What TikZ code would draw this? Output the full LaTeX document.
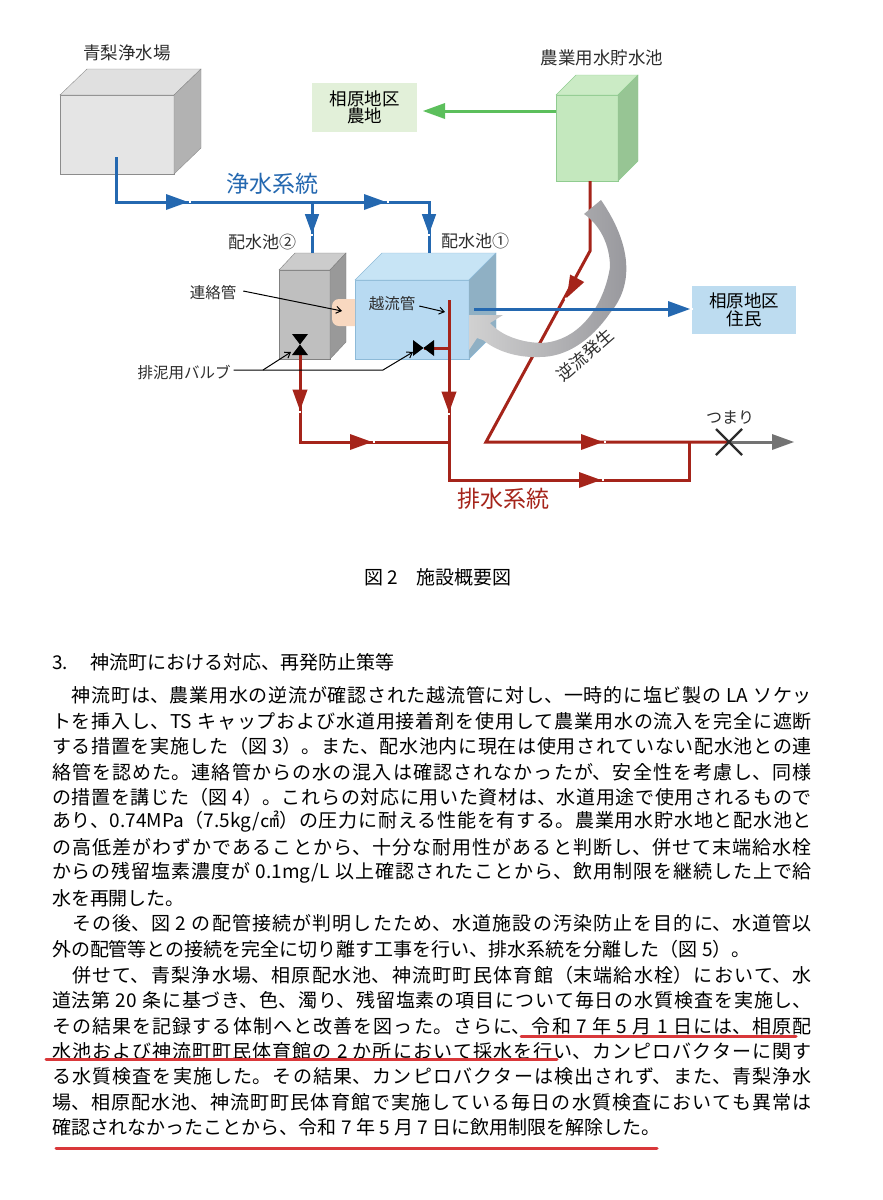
\documentclass[tikz,border=0pt]{standalone}
\usepackage{fontspec}
\setmainfont{Noto Sans CJK JP}
\usetikzlibrary{arrows.meta, calc}
\definecolor{watblue}{RGB}{36, 104, 176}
\definecolor{drainred}{RGB}{165, 36, 26}
\definecolor{farmgreen}{RGB}{92, 191, 92}
\definecolor{inkgray}{RGB}{45, 45, 45}
\definecolor{markred}{RGB}{217, 56, 58}
\XeTeXlinebreaklocale "ja"
\XeTeXlinebreakskip=0pt plus 2pt minus 0.3pt
\tolerance=9999
\hbadness=10000
\newcommand{\sz}[1]{\fontsize{#1}{#1}\selectfont}
% side and top faces behind a front rectangle node
\newcommand{\tankback}[6]{
  \filldraw[draw=#6, fill=#4] (#1.north west) -- ++(#2,-#3) -- ++($(#1.north east)-(#1.north west)$) -- (#1.north east) -- cycle;
  \filldraw[draw=#6, fill=#5] (#1.north east) -- ++(#2,-#3) -- ++($(#1.south east)-(#1.north east)$) -- (#1.south east) -- cycle;
}
\tikzset{
  flowtip/.pic={
    \fill[pic actions] (-11,-8) -- (11,0) -- (-11,8) -- cycle;
    \draw[white, line width=2.6pt] (11.5,0) -- (13.5,0);
  }
}
\begin{document}
\begin{tikzpicture}[
    x=1pt, y=-1pt,
    every node/.style={font=\sz{16}, align=center, text=inkgray, inner sep=0pt, outer sep=0pt},
    tankfront/.style={draw, anchor=north west, line width=0.8pt},
    infobox/.style={anchor=north west, font=\sz{17.5}, text=black, minimum width=105pt},
    bluepipe/.style={draw=watblue, line width=3pt},
    redpipe/.style={draw=drainred, line width=3pt},
    leader/.style={draw=black, line width=1pt},
    leadtip/.style={leader, -{Straight Barb[length=5pt, width=7pt]}},
    bodyline/.style={anchor=west, font=\sz{19}, text=black, align=left},
    fullline/.style={bodyline, align=justify, text width=760pt, execute at begin node={\parfillskip=0pt}},
    markline/.style={draw=markred, line width=3pt, line cap=round}
  ]
  \useasboundingbox (0,0) rectangle (883,1200);

  % tanks
  \node[tankfront, draw=black!45, fill=black!10, minimum width=114pt, minimum height=79pt] (plant) at (60,95) {};
  \tankback{plant}{27}{26}{black!12}{black!30}{black!45}
  \node[tankfront, draw=black!50, fill=black!25, minimum width=51pt, minimum height=89pt] (tankb) at (279,270) {};
  \tankback{tankb}{16}{17}{black!20}{black!40}{black!50}
  \node[tankfront, draw={rgb,255:red,141;green,186;blue,216}, fill={rgb,255:red,184;green,218;blue,242}, minimum width=114pt, minimum height=79pt] (tanka) at (355,280) {};
  \tankback{tanka}{27}{27}{{rgb,255:red,199;green,228;blue,245}}{{rgb,255:red,143;green,176;blue,196}}{{rgb,255:red,141;green,186;blue,216}}
  \node[tankfront, draw={rgb,255:red,144;green,204;blue,144}, fill={rgb,255:red,196;green,232;blue,190}, minimum width=62pt, minimum height=86pt] (farmtank) at (556,95) {};
  \tankback{farmtank}{20}{20}{{rgb,255:red,203;green,235;blue,197}}{{rgb,255:red,151;green,197;blue,148}}{{rgb,255:red,144;green,204;blue,144}}
  \fill[fill={rgb,255:red,248;green,216;blue,192}] (355,299) [rounded corners=7pt] -- (332,299) -- (332,326) [sharp corners] -- (355,326) -- cycle;

  % boxes
  \node[infobox, fill={rgb,255:red,226;green,240;blue,217}, minimum height=49pt] (fields) at (312,83) {相原地区\\農地};
  \node[infobox, fill={rgb,255:red,189;green,220;blue,240}, minimum width=104pt, minimum height=48pt] (homes) at (692,286) {相原地区\\住民};

  % named points
  \coordinate (plantout) at (116,157);
  \coordinate (mainbend) at (116,202);
  \coordinate (branchb) at (312,202);
  \coordinate (branchtop) at (429,202);
  \coordinate (inb) at (312,253);
  \coordinate (ina) at (429,253);
  \coordinate (outa) at (474,309);
  \coordinate (overtop) at (449,300);
  \coordinate (overknee) at (449,480);
  \coordinate (valveastub) at (449,348);
  \coordinate (sludgebend) at (300,442);
  \coordinate (sludgejoin) at (449,442);
  \coordinate (farmknee) at (590,251);
  \coordinate (farmfoot) at (486,442);
  \coordinate (joinup) at (689,442);
  \coordinate (joinlow) at (689,480);
  \coordinate (clog) at (729,442);
  \coordinate (clogend) at (775,442);
  \coordinate (farmout) at (556,111);
  \coordinate (fieldin) at (440,111);
  \coordinate (homein) at (670,309);
  \coordinate (valvebtop) at (300,347);

  % drain pipes
  \draw[redpipe] (farmtank.south -| farmknee) -- (farmknee) -- (farmfoot) -- (clog);
  \draw[redpipe] (overtop) -- (overknee) -- (joinlow) -- (joinup);
  \draw[redpipe] (valvebtop) -- (sludgebend) -- (sludgejoin);
  \draw[redpipe] (valveastub) -- (424,348);
  \draw[draw=black!55, line width=3pt] (clog) -- (clogend);

  % backflow swoosh
  \shade[left color=black!18, right color={rgb,255:red,150;green,150;blue,155}]
    (601,200) .. controls (632,245) and (634,285) .. (610,313)
    .. controls (590,342) and (565,357) .. (540,357)
    .. controls (515,358) and (495,350) .. (483,340)
    -- (477,338) -- (469,350) -- (469,315) -- (503,315) -- (490,323)
    .. controls (505,340) and (535,345) .. (550,342)
    .. controls (585,335) and (605,300) .. (610,267)
    .. controls (610,245) and (600,225) .. (584,214) -- cycle;

  % water pipes
  \draw[bluepipe] (plantout) -- (mainbend) -- (branchtop) -- (ina);
  \draw[bluepipe] (branchb) -- (inb);
  \draw[bluepipe] (outa) -- (homein);
  \draw[draw=farmgreen, line width=3pt] (farmout) -- (fieldin);

  % flow arrows
  \pic[fill=watblue] at (177,202) {flowtip};
  \pic[fill=watblue] at (375,202) {flowtip};
  \pic[fill=watblue, rotate=-90, scale=0.9] at (312,224) {flowtip};
  \pic[fill=watblue, rotate=-90, scale=0.9] at (429,224) {flowtip};
  \pic[fill=watblue] at (679,309) {flowtip};
  \pic[fill=farmgreen, rotate=180] at (434,111) {flowtip};
  \pic[fill=drainred, rotate=-90, scale=0.95] at (300,400) {flowtip};
  \pic[fill=drainred, rotate=-90, scale=0.95] at (449,402) {flowtip};
  \pic[fill=drainred] at (361,442) {flowtip};
  \pic[fill=drainred, rotate=-118] at (572,288) {flowtip};
  \pic[fill=drainred] at (592,442) {flowtip};
  \pic[fill=drainred] at (590,480) {flowtip};
  \pic[fill=black!55] at (783,442) {flowtip};

  % valves and clog mark
  \fill[black] (292,334) -- (308,334) -- (292,355) -- (308,355) -- cycle;
  \fill[black] (413,340) -- (413,356) -- (434,340) -- (434,356) -- cycle;
  \draw[draw=inkgray, line width=2.4pt] (716,429) -- (742,455) (716,455) -- (742,429);

  % labels
  \node[font=\sz{17.5}] (plantlbl) at (127,53) {青梨浄水場};
  \node[font=\sz{17.5}] (farmlbl) at (602,58) {農業用水貯水池};
  \node[font=\sz{23}, text=watblue] (cleanlbl) at (272,184) {浄水系統};
  \node[font=\sz{23}, text=drainred] (drainlbl) at (503,499) {排水系統};
  \node[font=\sz{17}] (tankblbl) at (262,242) {配水池②};
  \node[font=\sz{17}] (tankalbl) at (475,241) {配水池①};
  \node[font=\sz{15.5}] (linklbl) at (213,293) {連絡管};
  \node[font=\sz{15.5}] (overlbl) at (392,304) {越流管};
  \node[font=\sz{15.5}] (sludgelbl) at (184,373) {排泥用バルブ};
  \node[font=\sz{16}] (cloglbl) at (730,418) {つまり};
  \node[font=\sz{17}, rotate=41] (backlbl) at (585,355) {逆流発生};
  \node[font=\sz{19}, text=black] (caption) at (438,577) {図 2　施設概要図};

  % leaders
  \draw[leadtip] (linklbl.east) ++(7,-2) -- (342,311);
  \draw[leadtip] (overlbl.east) ++(4,2) -- (445,312);
  \draw[leadtip] (sludgelbl.east) ++(3,-3) -- (383,370) -- (413,352);
  \draw[leadtip] (263,370) -- (291,352);

  % body text
  \node[bodyline] (head) at (52,662) {\makebox[20pt][l]{3.}　神流町における対応、再発防止策等};
  \foreach \ypos/\linetext [count=\i] in {
    695/{　神流町は、農業用水の逆流が確認された越流管に対し、一時的に塩ビ製の LA ソケッ},
    721/{トを挿入し、TS キャップおよび水道用接着剤を使用して農業用水の流入を完全に遮断},
    746/{する措置を実施した（図 3）。また、配水池内に現在は使用されていない配水池との連},
    772/{絡管を認めた。連絡管からの水の混入は確認されなかったが、安全性を考慮し、同様},
    797/{の措置を講じた（図 4）。これらの対応に用いた資材は、水道用途で使用されるもので},
    822/{あり、0.74MPa（7.5kg/㎠）の圧力に耐える性能を有する。農業用水貯水地と配水池と},
    847/{の高低差がわずかであることから、十分な耐用性があると判断し、併せて末端給水栓},
    873/{からの残留塩素濃度が 0.1mg/L 以上確認されたことから、飲用制限を継続した上で給},
    923/{　その後、図 2 の配管接続が判明したため、水道施設の汚染防止を目的に、水道管以},
    975/{　併せて、青梨浄水場、相原配水池、神流町町民体育館（末端給水栓）において、水},
    1000/{道法第 20 条に基づき、色、濁り、残留塩素の項目について毎日の水質検査を実施し、},
    1026/{その結果を記録する体制へと改善を図った。さらに、令和 7 年 5 月 1 日には、相原配},
    1051/{水池および神流町町民体育館の 2 か所において採水を行い、カンピロバクターに関す},
    1076/{る水質検査を実施した。その結果、カンピロバクターは検出されず、また、青梨浄水},
    1102/{場、相原配水池、神流町町民体育館で実施している毎日の水質検査においても異常は}
  } {
    \node[fullline] (line\i) at (52,\ypos) {\linetext};
  }
  \node[bodyline] (lastone) at (52,898) {水を再開した。};
  \node[bodyline] (lasttwo) at (52,949) {外の配管等との接続を完全に切り離す工事を行い、排水系統を分離した（図 5）。};
  \node[bodyline] (lastthree) at (52,1127) {確認されなかったことから、令和 7 年 5 月 7 日に飲用制限を解除した。};

  % red marker lines
  \draw[markline] (521,1036) -- (796,1036);
  \draw[markline] (46,1059) -- (557,1059);
  \draw[markline] (56,1148) -- (657,1148);
\end{tikzpicture}
\end{document}
